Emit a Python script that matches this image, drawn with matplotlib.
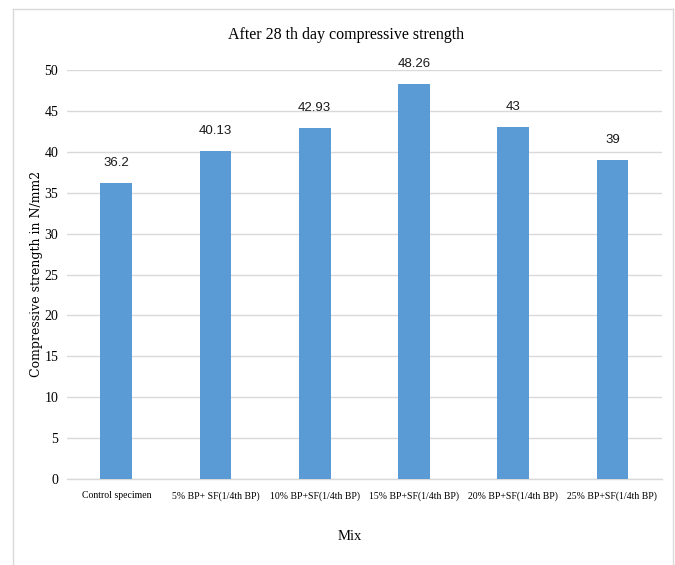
import numpy as np
import matplotlib
matplotlib.use("Agg")
import matplotlib.pyplot as plt
from matplotlib.lines import Line2D

# data
mixes = [
    "Control specimen",
    "5% BP+ SF(1/4th BP)",
    "10% BP+SF(1/4th BP)",
    "15% BP+SF(1/4th BP)",
    "20% BP+SF(1/4th BP)",
    "25% BP+SF(1/4th BP)",
]
strength = [36.2, 40.13, 42.93, 48.26, 43, 39]
value_labels = ["36.2", "40.13", "42.93", "48.26", "43", "39"]
y_ticks = [0, 5, 10, 15, 20, 25, 30, 35, 40, 45, 50]

BAR_COLOR = "#5B9BD5"
GRID_COLOR = "#D9D9D9"
SERIF = ["Liberation Serif", "DejaVu Serif"]
SANS = ["Liberation Sans", "DejaVu Sans"]

W, H = 675, 565
fig = plt.figure(figsize=(W / 100, H / 100), dpi=100)

# axes placed in pixel terms
left, right = 66.7, 662.0
top, bottom = 70.0, 479.0
ax = fig.add_axes([left / W, 1 - bottom / H, (right - left) / W, (bottom - top) / H])

x = np.arange(len(mixes))
bars = ax.bar(x, strength, width=0.32, color=BAR_COLOR, zorder=3)

ax.set_xlim(-0.5, len(mixes) - 0.5)
ax.set_ylim(0, 50)
ax.set_yticks(y_ticks)
ax.set_yticklabels([str(t) for t in y_ticks], family=SERIF, fontsize=10)
ax.set_xticks(x)
ax.set_xticklabels(mixes, family=SERIF, fontsize=7)
ax.tick_params(axis="y", length=0, pad=6)
ax.tick_params(axis="x", length=0, pad=9)

ax.grid(axis="y", color=GRID_COLOR, linewidth=1, zorder=0)
for side in ["left", "right", "top"]:
    ax.spines[side].set_visible(False)
ax.spines["bottom"].set_color(GRID_COLOR)
ax.spines["bottom"].set_linewidth(1)

# value labels above each bar
for xi, val, lab in zip(x, strength, value_labels):
    ax.annotate(lab, (xi, val), xytext=(0, 10), textcoords="offset points",
                ha="center", va="bottom", family=SANS, fontsize=9.5,
                color="#1a1a1a")

# titles
fig.text(346 / W, 1 - 35 / H, "After 28 th day compressive strength",
         ha="center", va="center", family=SERIF, fontsize=11.5)
fig.text(350 / W, 1 - 537 / H, "Mix", ha="center", va="center",
         family=SERIF, fontsize=10.5)
fig.text(37 / W, 1 - 274 / H, "Compressive strength in N/mm2", rotation=90,
         ha="center", va="center", family=["DejaVu Serif"], fontsize=9)

# light chart-area border
bx0, bx1, by0 = 13 / W, 673 / W, 1 - 9 / H
for xs, ys in [([bx0, bx0], [0, by0]), ([bx0, bx1], [by0, by0]), ([bx1, bx1], [by0, 0])]:
    fig.add_artist(Line2D(xs, ys, transform=fig.transFigure, color=GRID_COLOR, linewidth=1))

fig.savefig("out.png", dpi=100, facecolor="white")
